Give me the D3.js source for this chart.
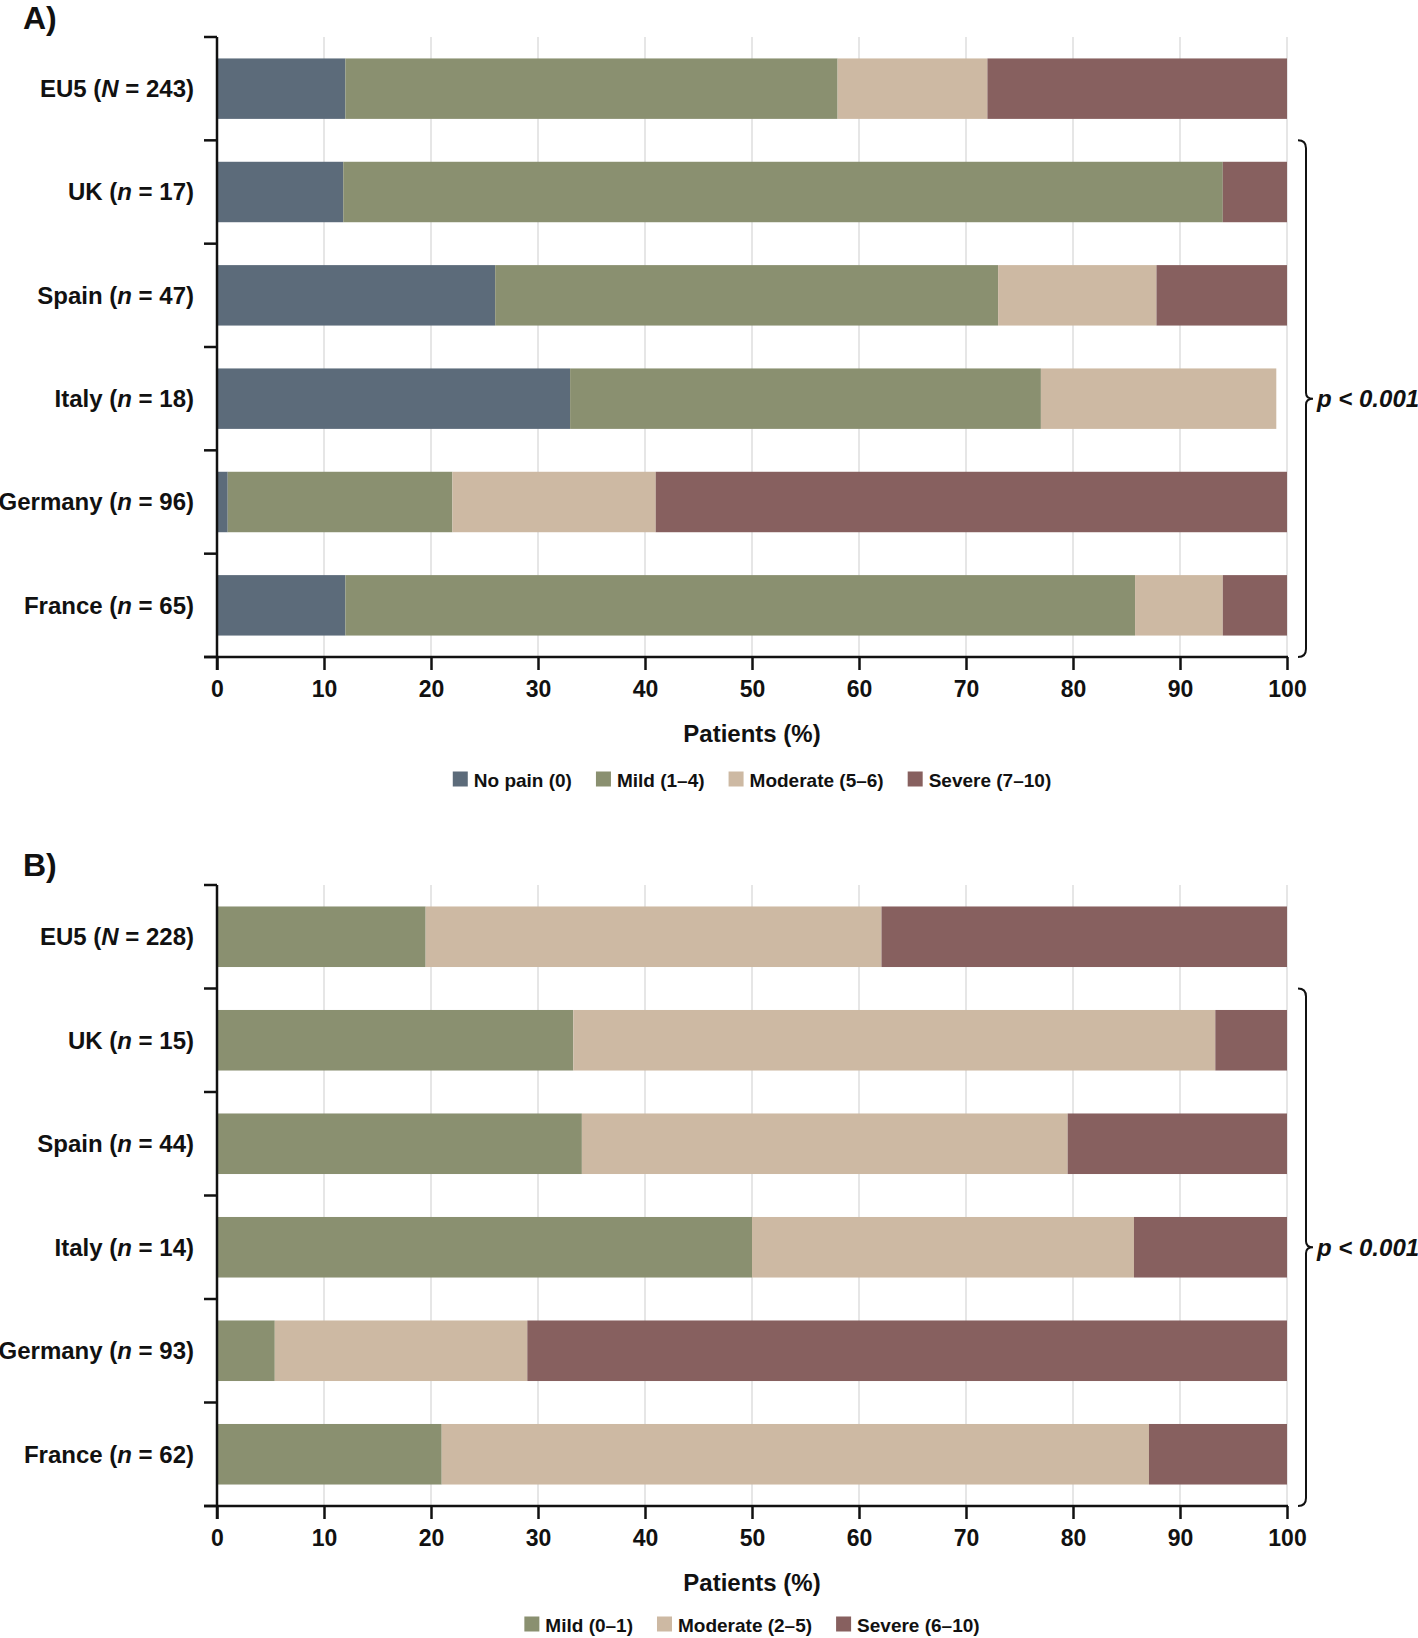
<!DOCTYPE html>
<html>
<head>
<meta charset="utf-8">
<script src="https://cdn.jsdelivr.net/npm/d3@7"></script>
<style>
  html, body { margin: 0; padding: 0; background: #fff; }
  svg { display: block; }
  text { font-family: "Liberation Sans", Arial, sans-serif; font-weight: bold; fill: #111; }
</style>
</head>
<body>
<svg id="chart" width="1418" height="1638"></svg>
<script>
// ---------------- DATA ----------------
const countries = ["EU5", "UK", "Spain", "Italy", "Germany", "France"];
const countSymbols = ["N", "n", "n", "n", "n", "n"];
const countsA = [243, 17, 47, 18, 96, 65];
const countsB = [228, 15, 44, 14, 93, 62];

const seriesA = ["No pain (0)", "Mild (1–4)", "Moderate (5–6)", "Severe (7–10)"];
const noPainA   = [12, 11.8, 26, 33, 1, 12];
const mildA     = [46, 82.2, 47, 44, 21, 73.8];
const moderateA = [14, 0, 14.8, 22, 19, 8.2];
const severeA   = [28, 6, 12.2, 0, 59, 6];

const seriesB = ["Mild (0–1)", "Moderate (2–5)", "Severe (6–10)"];
const mildB     = [19.5, 33.3, 34.1, 50, 5.4, 21];
const moderateB = [42.6, 60, 45.4, 35.7, 23.6, 66.1];
const severeB   = [37.9, 6.7, 20.5, 14.3, 71, 12.9];

const xTicks = [0, 10, 20, 30, 40, 50, 60, 70, 80, 90, 100];
const xTitle = "Patients (%)";
const pText = "p < 0.001";

const colNoPain = "#5c6b7a", colMild = "#8a9070", colMod = "#cdb9a3", colSev = "#87605f";

// ---------------- DRAW ----------------
const svg = d3.select("#chart");
const X0 = 217, X1 = 1287;
const x = d3.scaleLinear().domain([0, 100]).range([X0, X1]);

function panel(opts) {
  const g = svg.append("g");
  const top = opts.top, bottom = opts.bottom;
  const y = d3.scaleBand().domain(countries).range([top, bottom])
    .paddingInner(0.415).paddingOuter(0.2075);
  const step = y.step();

  // panel letter
  g.append("text").attr("x", 23).attr("y", opts.letterY)
    .style("font-size", "32px").text(opts.letter);

  // gridlines
  g.selectAll(".grid").data(xTicks.filter(d => d > 0)).join("line")
    .attr("x1", d => x(d)).attr("x2", d => x(d))
    .attr("y1", top).attr("y2", bottom)
    .attr("stroke", "#e6e6e6").attr("stroke-width", 2);

  // stacked bars
  const rows = countries.map((c, i) => {
    const o = { country: c };
    opts.keys.forEach((k, j) => o[k] = opts.values[j][i]);
    return o;
  });
  const stack = d3.stack().keys(opts.keys)(rows);
  stack.forEach((layer, j) => {
    g.append("g").attr("fill", opts.colors[j])
      .selectAll("rect").data(layer).join("rect")
      .attr("x", d => x(d[0]))
      .attr("width", d => Math.max(0, x(d[1]) - x(d[0])))
      .attr("y", d => y(d.data.country))
      .attr("height", y.bandwidth());
  });

  // y-axis line and boundary ticks
  const tickLen = 13;
  g.append("line").attr("x1", X0).attr("x2", X0).attr("y1", top).attr("y2", bottom + tickLen)
    .attr("stroke", "#111").attr("stroke-width", 2.5);
  const bounds = d3.range(countries.length + 1).map(i => top + i * step);
  g.selectAll(".yt").data(bounds).join("line")
    .attr("x1", X0 - tickLen).attr("x2", X0).attr("y1", d => d).attr("y2", d => d)
    .attr("stroke", "#111").attr("stroke-width", 2.5);

  // x-axis
  g.append("line").attr("x1", X0 - tickLen).attr("x2", X1 + 1).attr("y1", bottom).attr("y2", bottom)
    .attr("stroke", "#111").attr("stroke-width", 2.5);
  const ax = g.append("g").attr("transform", `translate(0,${bottom})`)
    .call(d3.axisBottom(x).tickValues(xTicks).tickSize(tickLen).tickSizeOuter(0).tickPadding(11));
  ax.select(".domain").remove();
  ax.selectAll(".tick line").attr("stroke", "#111").attr("stroke-width", 2.5);
  ax.selectAll(".tick text").attr("fill", "#111")
    .style("font-size", "23px").style("font-family", "'Liberation Sans', Arial, sans-serif")
    .style("font-weight", "bold");

  // category labels
  countries.forEach((c, i) => {
    const t = g.append("text").attr("x", 194).attr("y", y(c) + y.bandwidth() / 2)
      .attr("dy", "0.35em").attr("text-anchor", "end").style("font-size", "24px");
    t.append("tspan").text(c + " (");
    t.append("tspan").style("font-style", "italic").text(countSymbols[i]);
    t.append("tspan").text(" = " + opts.counts[i] + ")");
  });

  // axis title
  g.append("text").attr("x", (X0 + X1) / 2).attr("y", bottom + 85)
    .attr("text-anchor", "middle").style("font-size", "24px").text(xTitle);

  // legend
  const lg = g.append("g");
  const fs = 19, sw = 15, gapSw = 6, gapItem = 24;
  let cx = 0;
  opts.keys.forEach((k, j) => {
    const it = lg.append("g").attr("transform", `translate(${cx},0)`);
    it.append("rect").attr("x", 0).attr("y", -sw / 2 - 1).attr("width", sw).attr("height", sw)
      .attr("fill", opts.colors[j]);
    const tx = it.append("text").attr("x", sw + gapSw).attr("y", 0).attr("dy", "0.35em")
      .style("font-size", fs + "px").text(k);
    const w = tx.node().getComputedTextLength();
    cx += sw + gapSw + w + gapItem;
  });
  const totalW = cx - gapItem;
  lg.attr("transform", `translate(${(X0 + X1) / 2 - totalW / 2},${bottom + opts.legendOffset})`);

  // brace
  const bt = top + step, bb = bottom, mid = (bt + bb) / 2;
  const lx = 1306, ex = 1298, tx = 1313, r = 8;
  const path = `M${ex},${bt} Q${lx},${bt} ${lx},${bt + r} L${lx},${mid - 6} Q${lx},${mid} ${tx},${mid}` +
               ` Q${lx},${mid} ${lx},${mid + 6} L${lx},${bb - r} Q${lx},${bb} ${ex},${bb}`;
  g.append("path").attr("d", path).attr("fill", "none").attr("stroke", "#111").attr("stroke-width", 2);
  g.append("text").attr("x", 1317).attr("y", mid).attr("dy", "0.35em")
    .style("font-size", "24px").style("font-style", "italic").text(pText);
}

panel({
  letter: "A)", letterY: 29, top: 37, bottom: 657, legendOffset: 123,
  keys: seriesA, values: [noPainA, mildA, moderateA, severeA],
  colors: [colNoPain, colMild, colMod, colSev], counts: countsA
});
panel({
  letter: "B)", letterY: 876, top: 885, bottom: 1506, legendOffset: 119,
  keys: seriesB, values: [mildB, moderateB, severeB],
  colors: [colMild, colMod, colSev], counts: countsB
});
</script>
</body>
</html>
